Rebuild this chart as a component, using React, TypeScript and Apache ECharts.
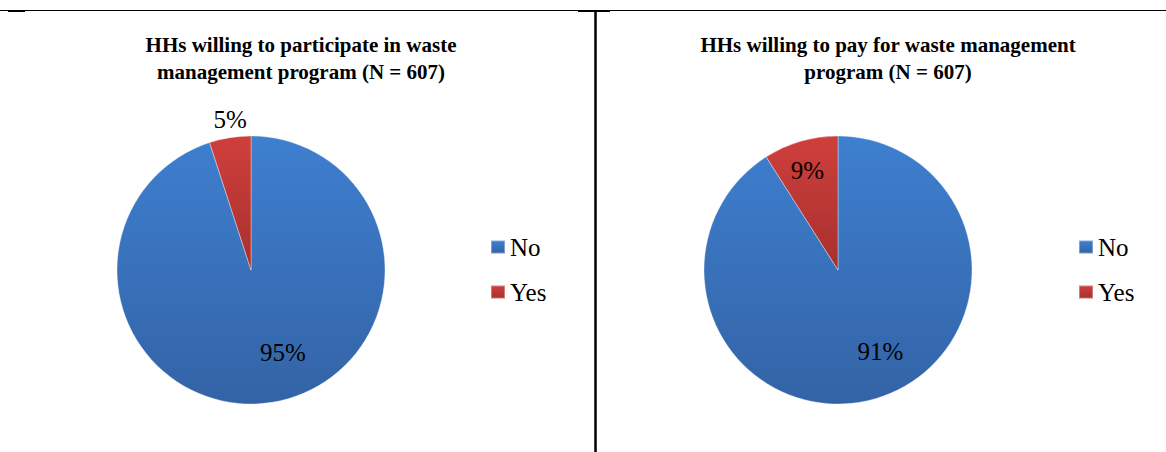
import React, { useEffect, useRef } from "react";
import * as echarts from "echarts";

const categories = ["No", "Yes"];
const participateValues = [95, 5];
const payValues = [91, 9];
const titles = [
  "HHs willing to participate in waste\nmanagement program (N = 607)",
  "HHs willing to pay for waste management\nprogram (N = 607)",
];

const FONT = "Liberation Serif";

const blueGrad = new echarts.graphic.LinearGradient(0, 0, 0, 1, [
  { offset: 0, color: "#3E7FCF" },
  { offset: 1, color: "#3363A6" },
]);
const redGrad = new echarts.graphic.LinearGradient(0, 0, 0, 1, [
  { offset: 0, color: "#CF3F3C" },
  { offset: 1, color: "#A7302D" },
]);

export default function App() {
  const ref = useRef<HTMLDivElement>(null);
  useEffect(() => {
    document.body.style.margin = "0";
    const chart = echarts.init(ref.current!, null, { renderer: "svg" });
    const labelBase = {
      show: true,
      position: "inside" as const,
      formatter: "{c}%",
      fontFamily: FONT,
      fontSize: 25,
      color: "#000",
    };
    const mkData = (vals: number[], offsets: number[][]) =>
      vals.map((v, i) => ({
        name: categories[i],
        value: v,
        itemStyle: { color: i === 0 ? blueGrad : redGrad },
        label: { ...labelBase, offset: offsets[i] },
      }));
    const legendBase = {
      orient: "vertical" as const,
      data: categories,
      icon: "rect",
      itemWidth: 14,
      itemHeight: 13,
      itemGap: 19,
      top: 229,
      textStyle: { fontFamily: FONT, fontSize: 25, lineHeight: 26, color: "#000" },
    };
    const titleStyle = { fontFamily: FONT, fontSize: 21, fontWeight: "bold" as const, lineHeight: 27, color: "#000" };
    chart.setOption({
      animation: false,
      backgroundColor: "#fff",
      title: [
        { text: titles[0], left: 296, top: 26, textAlign: "center", textStyle: titleStyle },
        { text: titles[1], left: 883, top: 26, textAlign: "center", textStyle: titleStyle },
      ],
      legend: [
        { ...legendBase, left: 485 },
        { ...legendBase, left: 1073 },
      ],
      series: [
        {
          type: "pie",
          center: [251, 270],
          radius: 134,
          startAngle: 90,
          clockwise: true,
          labelLine: { show: false },
          emphasis: { disabled: true },
          itemStyle: { borderColor: "rgba(255,255,255,0.35)", borderWidth: 1 },
          data: mkData(participateValues, [[21, 13], [-10, -81]]),
        },
        {
          type: "pie",
          center: [838, 270],
          radius: 134,
          startAngle: 90,
          clockwise: true,
          labelLine: { show: false },
          emphasis: { disabled: true },
          itemStyle: { borderColor: "rgba(255,255,255,0.35)", borderWidth: 1 },
          data: mkData(payValues, [[23, 14], [-11, -32]]),
        },
      ],
      graphic: [
        { type: "line", shape: { x1: 0, y1: 10.5, x2: 1166, y2: 10.5 }, style: { stroke: "#000", lineWidth: 1 } },
        { type: "line", shape: { x1: 8, y1: 11, x2: 25, y2: 11 }, style: { stroke: "#000", lineWidth: 2 } },
        { type: "line", shape: { x1: 578, y1: 11, x2: 610, y2: 11 }, style: { stroke: "#000", lineWidth: 2 } },
        { type: "line", shape: { x1: 595.5, y1: 10, x2: 595.5, y2: 452 }, style: { stroke: "#000", lineWidth: 2.5 } },
      ],
    });
    return () => chart.dispose();
  }, []);
  return <div ref={ref} style={{ width: 1166, height: 452 }} />;
}
